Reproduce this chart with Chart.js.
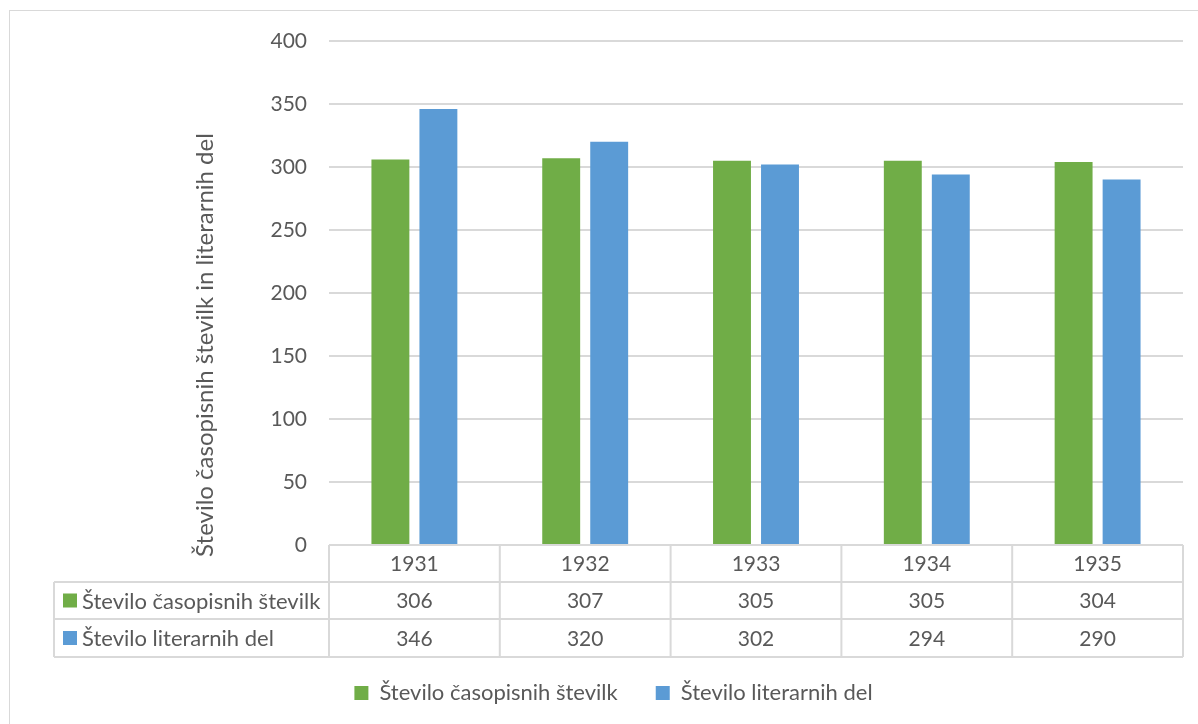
<!DOCTYPE html>
<html>
<head>
<meta charset="utf-8">
<script src="https://cdn.jsdelivr.net/npm/chart.js@4.4.1/dist/chart.umd.min.js"></script>
<style>
  body { margin: 0; background: #fff; }
</style>
</head>
<body>
<canvas id="casopisi-chart" width="1198" height="724"></canvas>
<script>
var leta = ['1931', '1932', '1933', '1934', '1935'];
var casopisneStevilke = [306, 307, 305, 305, 304];
var literarnaDela = [346, 320, 302, 294, 290];
var imenaSerij = ['Število časopisnih številk', 'Število literarnih del'];
var barve = ['#70AD47', '#5B9BD5'];
var naslovOsiY = 'Število časopisnih številk in literarnih del';

var pisava = 'Lato, "Liberation Sans", sans-serif';
var sivaBesedila = '#595959';
var sivaCrt = '#D9D9D9';

// okvir celotnega grafa
var okvir = {
  id: 'okvir',
  beforeDraw: function (chart) {
    var c = chart.ctx;
    c.save();
    c.fillStyle = '#fff';
    c.fillRect(0, 0, chart.width, chart.height);
    c.strokeStyle = sivaCrt;
    c.lineWidth = 1;
    c.strokeRect(9.5, 10.5, chart.width + 10, chart.height + 10);
    c.restore();
  }
};

// naslov osi y in podatkovna tabela pod grafom
var tabela = {
  id: 'tabela',
  afterDraw: function (chart) {
    var c = chart.ctx;
    var area = chart.chartArea;
    var x = chart.scales.x;
    var n = leta.length;
    var sirina = (area.right - area.left) / n;
    var vrh = area.bottom;
    var vrstice = [vrh, vrh + 37, vrh + 74, vrh + 112];
    var levo = 54;

    c.save();
    // naslov osi
    c.translate(205, 345);
    c.rotate(-Math.PI / 2);
    c.fillStyle = sivaBesedila;
    c.font = '24px ' + pisava;
    c.textAlign = 'center';
    c.textBaseline = 'middle';
    c.fillText(naslovOsiY, 0, 0);
    c.restore();

    c.save();
    c.strokeStyle = sivaCrt;
    c.lineWidth = 2;
    c.beginPath();
    // vodoravne crte
    c.moveTo(area.left, vrstice[0]); c.lineTo(area.right, vrstice[0]);
    for (var r = 1; r < 4; r++) {
      c.moveTo(levo, vrstice[r]); c.lineTo(area.right, vrstice[r]);
    }
    // navpicne crte
    c.moveTo(levo, vrstice[1]); c.lineTo(levo, vrstice[3]);
    for (var i = 0; i <= n; i++) {
      var xx = area.left + i * sirina;
      c.moveTo(xx, vrstice[0]); c.lineTo(xx, vrstice[3]);
    }
    c.stroke();

    c.fillStyle = sivaBesedila;
    c.font = '21px ' + pisava;
    c.textBaseline = 'middle';
    c.textAlign = 'center';
    var serije = [casopisneStevilke, literarnaDela];
    for (var j = 0; j < n; j++) {
      var cx = x.getPixelForValue(j);
      c.fillText(leta[j], cx, (vrstice[0] + vrstice[1]) / 2 + 1);
      for (var s = 0; s < serije.length; s++) {
        c.fillText(String(serije[s][j]), cx, (vrstice[s + 1] + vrstice[s + 2]) / 2 + 1);
      }
    }
    c.textAlign = 'left';
    c.font = '22px ' + pisava;
    for (var k = 0; k < imenaSerij.length; k++) {
      var sy = (vrstice[k + 1] + vrstice[k + 2]) / 2;
      c.fillStyle = barve[k];
      c.fillRect(63, sy - 7, 14, 14);
      c.fillStyle = sivaBesedila;
      c.fillText(imenaSerij[k], 82, sy + 1);
    }
    c.restore();
  }
};

var ctx = document.getElementById('casopisi-chart').getContext('2d');
var myChart = new Chart(ctx, {
  type: 'bar',
  data: {
    labels: leta,
    datasets: [{
      label: imenaSerij[0],
      data: casopisneStevilke,
      backgroundColor: barve[0],
      borderWidth: 0
    }, {
      label: imenaSerij[1],
      data: literarnaDela,
      backgroundColor: barve[1],
      borderWidth: 0
    }]
  },
  options: {
    responsive: false,
    animation: false,
    categoryPercentage: 0.562,
    barPercentage: 0.79,
    layout: {
      padding: { top: 41, right: 15, bottom: 10, left: 44 }
    },
    scales: {
      x: {
        grid: { display: false },
        border: { display: false },
        ticks: { display: false },
        afterFit: function (scale) { scale.height = 99; }
      },
      y: {
        min: 0,
        max: 400,
        afterFit: function (scale) { scale.width = 285; },
        grid: { color: sivaCrt, lineWidth: 2, drawTicks: false },
        border: { display: false },
        ticks: {
          stepSize: 50,
          padding: 22,
          color: sivaBesedila,
          font: { family: pisava, size: 21 }
        }
      }
    },
    plugins: {
      legend: {
        position: 'bottom',
        labels: {
          boxWidth: 14,
          boxHeight: 14,
          padding: 38,
          color: sivaBesedila,
          font: { family: pisava, size: 22 }
        }
      },
      tooltip: { enabled: false }
    }
  },
  plugins: [okvir, tabela]
});
</script>
</body>
</html>
